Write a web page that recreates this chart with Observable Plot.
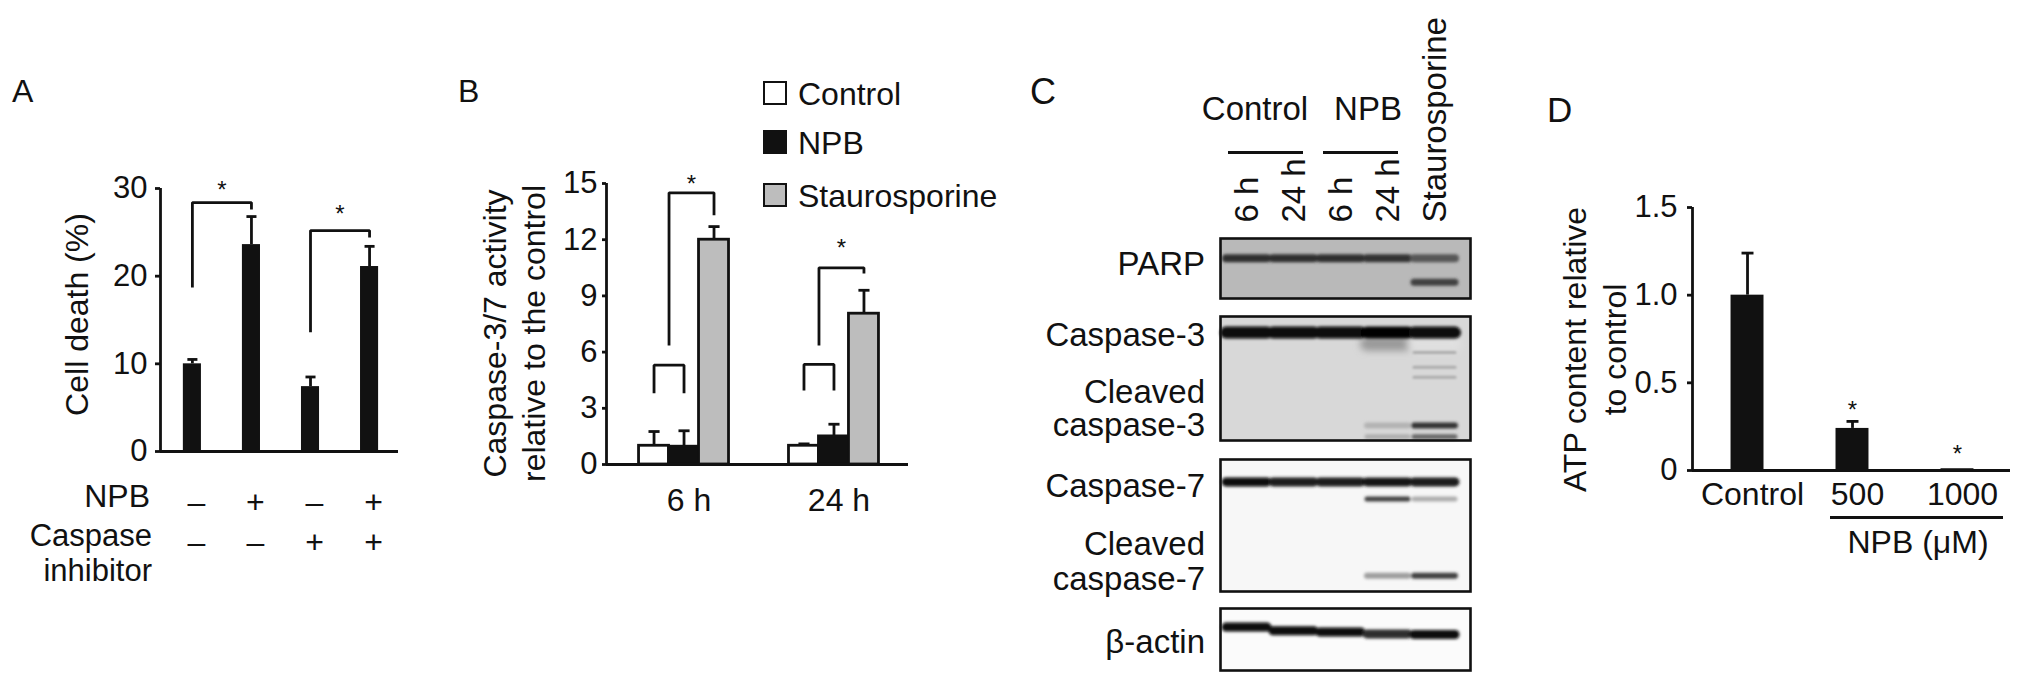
<!DOCTYPE html>
<html><head><meta charset="utf-8">
<script src="https://cdn.jsdelivr.net/npm/d3@7"></script>
<script src="https://cdn.jsdelivr.net/npm/@observablehq/plot@0.6"></script>
<style>
html,body{margin:0;padding:0;background:#fff;}
#fig{position:relative;width:2031px;height:685px;overflow:hidden;font-family:"Liberation Sans",Arial,Helvetica,sans-serif;color:#111;}
.p{position:absolute;}
.t{position:absolute;white-space:nowrap;line-height:1;}
.hl{position:absolute;height:3px;background:#111;}
</style></head><body><div id="fig"></div>
<script>
// ---------- Panel A data ----------
const aNPB = ["–", "+", "–", "+"];
const aInhibitor = ["–", "–", "+", "+"];
const aCellDeath = [10.0, 23.6, 7.4, 21.1];
const aError = [0.5, 3.2, 1.1, 2.3];
const aBrackets = [
  {left: 0, right: 1, top: 28.4, leftEnd: 18.7, rightEnd: 27.6, star: 30.5},
  {left: 2, right: 3, top: 25.2, leftEnd: 13.6, rightEnd: 24.4, star: 27.7}
];
const aTicks = [0, 10, 20, 30];

// ---------- Panel B data ----------
const bTimes = ["6 h", "24 h"];
const bSeries = ["Control", "NPB", "Staurosporine"];
const bControl = [1.0, 1.0];
const bNPB = [0.95, 1.5];
const bStauro = [12.0, 8.05];
const bControlErr = [0.76, 0.1];
const bNPBErr = [0.85, 0.65];
const bStauroErr = [0.7, 1.25];
// bracket legs given as series offsets (-1 Control, 0 NPB, 1 Staurosporine, -0.5 between)
const bBrackets = [
  {time: 0, left: -1, right: 0, top: 5.3, leftEnd: 3.8, rightEnd: 3.8},
  {time: 0, left: -0.5, right: 1, top: 14.5, leftEnd: 6.35, rightEnd: 13.3},
  {time: 1, left: -1, right: 0, top: 5.34, leftEnd: 3.95, rightEnd: 3.95},
  {time: 1, left: -0.5, right: 1, top: 10.5, leftEnd: 6.35, rightEnd: 10.2}
];
const bStars = [{time: 0, y: 15.3}, {time: 1, y: 11.85}];
const bTicks = [0, 3, 6, 9, 12, 15];

// ---------- Panel C data (band intensity per lane, 0 = no band; pos = migration 0 top .. 1 bottom) ----------
const cLanes = ["6 h", "24 h", "6 h", "24 h", "Staurosporine"];
const parpFullPos = 0.33, parpFull = [0.82, 0.82, 0.82, 0.8, 0.66];
const parpCleavedPos = 0.73, parpCleaved = [0, 0, 0, 0, 0.75];
const casp3Pos = 0.13, casp3 = [0.97, 0.97, 0.97, 1.0, 0.97];
const casp3SmearPos = 0.22, casp3Smear = [0, 0, 0, 0.4, 0.12];
const casp3MidPos = [0.29, 0.41, 0.49], casp3Mid = [0, 0, 0, 0, 0.32];
const cleaved3aPos = 0.88, cleaved3a = [0, 0, 0, 0.3, 0.8];
const cleaved3bPos = 0.97, cleaved3b = [0, 0, 0, 0.32, 0.6];
const casp7Pos = 0.17, casp7 = [0.95, 0.9, 0.9, 0.92, 0.9];
const casp7MidPos = 0.30, casp7Mid = [0, 0, 0, 0.75, 0.32];
const cleaved7Pos = 0.88, cleaved7 = [0, 0, 0, 0.38, 0.75];
const actinPos = [0.30, 0.36, 0.38, 0.41, 0.42], actin = [0.97, 0.97, 0.95, 0.82, 0.95];

// ---------- Panel D data ----------
const dGroups = ["Control", "500", "1000"];
const dATP = [1.0, 0.24, 0.01];
const dErr = [0.24, 0.04, 0.0];
const dStars = [{i: 1, y: 0.38}, {i: 2, y: 0.125}];
const dTicks = [0, 0.5, 1.0, 1.5];

// ---------- helpers ----------
const fig = document.getElementById("fig");
const FONT = '"Liberation Sans", Arial, Helvetica, sans-serif';
const INK = "#111";
const baseStyle = {fontFamily: FONT, fontSize: "31px", color: INK, background: "transparent", overflow: "visible", maxWidth: "none"};
function place(node, left, top) {
  const d = document.createElement("div");
  d.className = "p"; d.style.left = left + "px"; d.style.top = top + "px";
  d.appendChild(node); fig.appendChild(d);
}
function txt(str, x, baseline, size, anchor = "start", lh = null) {
  const d = document.createElement("div");
  d.className = "t"; d.style.fontSize = size + "px";
  const lines = String(str).split("\n");
  lines.forEach((l, i) => { if (i) d.appendChild(document.createElement("br")); d.appendChild(document.createTextNode(l)); });
  if (lh) { d.style.lineHeight = lh + "px"; d.style.top = (baseline - (lh / 2 + 0.33 * size)) + "px"; }
  else d.style.top = (baseline - 0.85 * size) + "px";
  if (anchor === "end") { d.style.right = (2031 - x) + "px"; d.style.textAlign = "right"; }
  else if (anchor === "middle") { d.style.left = x + "px"; d.style.transform = "translateX(-50%)"; }
  else d.style.left = x + "px";
  fig.appendChild(d);
}
function hline(x1, x2, y) {
  const d = document.createElement("div");
  d.className = "hl"; d.style.left = x1 + "px"; d.style.width = (x2 - x1) + "px"; d.style.top = (y - 1.5) + "px";
  fig.appendChild(d);
}
function bracketPoints(list, xOf) {
  return list.flatMap((b, id) => [
    {id, x: xOf(b, b.left), y: b.leftEnd},
    {id, x: xOf(b, b.left), y: b.top},
    {id, x: xOf(b, b.right), y: b.top},
    {id, x: xOf(b, b.right), y: b.rightEnd}
  ]);
}
// rotated y-axis title, drawn by Plot relative to the frame's left edge
const yTitle = (text, dx, dy, lineHeight = 1.2) =>
  Plot.text([text], {frameAnchor: "left", rotate: -90, dx, dy, fontSize: 32, lineHeight, lineAnchor: "middle", textAnchor: "middle"});
const SW = 2.8;

// ---------- Panel A ----------
{
  const data = aCellDeath.map((v, i) => ({i, value: v, top: v + aError[i]}));
  const xd = [-0.54, 3.49];
  const hw = 0.153, cap = 0.085;
  const plot = Plot.plot({
    width: 420, height: 685, marginLeft: 160, marginRight: 22, marginTop: 188, marginBottom: 234,
    style: baseStyle,
    x: {domain: xd},
    y: {domain: [0, 30], label: null},
    marks: [
      Plot.rectY(data, {x1: d => d.i - hw, x2: d => d.i + hw, y: "value", fill: INK}),
      Plot.ruleX(data, {x: "i", y1: "value", y2: "top", stroke: INK, strokeWidth: SW}),
      Plot.link(data, {x1: d => d.i - cap, x2: d => d.i + cap, y1: "top", y2: "top", stroke: INK, strokeWidth: SW}),
      Plot.line(bracketPoints(aBrackets, (b, p) => p), {x: "x", y: "y", z: "id", stroke: INK, strokeWidth: SW, strokeLinejoin: "miter", strokeLinecap: "butt"}),
      Plot.text(aBrackets, {x: d => (d.left + d.right) / 2, y: "star", text: () => "*", fontSize: 24, dy: 6}),
      Plot.ruleX([xd[0]], {y1: 0, y2: 30, stroke: INK, strokeWidth: SW}),
      Plot.ruleY([0], {stroke: INK, strokeWidth: 3.2}),
      Plot.axisY({ticks: aTicks, tickSize: 5, tickPadding: 8, strokeWidth: SW, label: null}),
      Plot.axisX({ticks: [0, 1, 2, 3], tickFormat: i => aNPB[i] + "\n" + aInhibitor[i], tickSize: 0, tickPadding: 33, lineHeight: 1.25, fontSize: 32, dx: 4, label: null}),
      yTitle("Cell death (%)", -85, -5.5)
    ]
  });
  place(plot, 0, 0);
  txt("A", 12, 102, 32);
  txt("NPB", 150, 507, 32, "end");
  txt("Caspase\ninhibitor", 152, 546, 31, "end", 35);
}

// ---------- Panel B ----------
{
  const vals = [bControl, bNPB, bStauro], errs = [bControlErr, bNPBErr, bStauroErr];
  const data = bTimes.flatMap((t, ti) => bSeries.map((s, si) => ({
    t: ti, k: si - 1, series: s, value: vals[si][ti], top: vals[si][ti] + errs[si][ti]
  })));
  const xd = [-0.517, 1.497];
  const gap = 0.2, hw = 0.1, cap = 0.037;
  const cx = d => d.t + d.k * gap;
  const plot = Plot.plot({
    width: 470, height: 685, marginLeft: 156, marginRight: 12, marginTop: 183, marginBottom: 221,
    style: baseStyle,
    x: {domain: xd},
    y: {domain: [0, 15], label: null},
    color: {domain: bSeries, range: ["#ffffff", INK, "#bdbdbd"]},
    marks: [
      Plot.ruleX(data, {x: cx, y1: "value", y2: "top", stroke: INK, strokeWidth: SW}),
      Plot.link(data, {x1: d => cx(d) - cap, x2: d => cx(d) + cap, y1: "top", y2: "top", stroke: INK, strokeWidth: SW}),
      Plot.rectY(data, {x1: d => cx(d) - hw, x2: d => cx(d) + hw, y: "value", fill: "series", stroke: INK, strokeWidth: SW}),
      Plot.line(bracketPoints(bBrackets, (b, p) => b.time + p * gap), {x: "x", y: "y", z: "id", stroke: INK, strokeWidth: SW, strokeLinejoin: "miter", strokeLinecap: "butt"}),
      Plot.text(bStars, {x: d => d.time + 0.25 * gap, y: "y", text: () => "*", fontSize: 24, dy: 6}),
      Plot.ruleX([xd[0]], {y1: 0, y2: 15, stroke: INK, strokeWidth: SW}),
      Plot.ruleY([0], {stroke: INK, strokeWidth: 3.2}),
      Plot.axisY({ticks: bTicks, tickSize: 4, tickPadding: 5, strokeWidth: SW, label: null}),
      Plot.axisX({ticks: [0, 1], tickFormat: i => bTimes[i], tickSize: 0, tickPadding: 24, fontSize: 32, dx: 5, label: null}),
      yTitle("Caspase-3/7 activity\nrelative to the control", -93.5, 9.5, 1.22)
    ]
  });
  place(plot, 450, 0);
  txt("B", 458, 102, 32);
  // legend
  const sw = [["#ffffff", "Control"], [INK, "NPB"], ["#bdbdbd", "Staurosporine"]];
  const rows = [93, 142, 195];
  sw.forEach(([c, label], i) => {
    const s = document.createElement("div");
    s.style.cssText = `position:absolute;left:763px;top:${rows[i] - 12}px;width:20px;height:20px;background:${c};border:2.8px solid ${INK};`;
    fig.appendChild(s);
    txt(label, 798, rows[i] + 12, 32);
  });
}

// ---------- Panel C ----------
{
  const NS = "http://www.w3.org/2000/svg";
  let fid = 0;
  const bands = (pos, intens) => intens.map((v, i) => ({lane: i, pos: Array.isArray(pos) ? pos[i] : pos, intensity: v})).filter(d => d.intensity > 0);
  const blot = ({height, marginTop = 0, bg, layers, axis = false}) => {
    const svg = Plot.plot({
      width: 250, height, marginTop, marginBottom: 0, marginLeft: 0, marginRight: 0,
      style: {...baseStyle, fontSize: "33px"},
      x: {type: "band", domain: [0, 1, 2, 3, 4], paddingInner: 0, paddingOuter: 0.13, align: 0.18, ...(axis ? {} : {axis: null})},
      y: {domain: [0, 1], reverse: true, axis: null},
      color: {type: "linear", domain: [0, 1], range: ["#ffffff", "#000000"]},
      marks: [
        Plot.frame({fill: bg}),
        ...layers.map(([data, w]) => Plot.tickY(data, {x: "lane", y: "pos", stroke: "intensity", strokeWidth: w, insetLeft: 3, insetRight: 3, strokeLinecap: "round"})),
        Plot.frame({stroke: INK, strokeWidth: 2.6}),
        ...(axis ? [Plot.axisX({anchor: "top", tickFormat: i => cLanes[i], tickRotate: -90, tickSize: 0, tickPadding: 16, fontSize: 33, label: null})] : [])
      ]
    });
    // soften the bands with a gaussian blur (SVG filter)
    const defs = document.createElementNS(NS, "defs");
    svg.insertBefore(defs, svg.firstChild);
    const groups = svg.querySelectorAll('g[aria-label="tick"]');
    groups.forEach((g, gi) => {
      const id = "blur" + (fid++);
      const f = document.createElementNS(NS, "filter");
      f.setAttribute("id", id);
      f.setAttribute("filterUnits", "userSpaceOnUse");
      f.setAttribute("x", "-20"); f.setAttribute("y", "-20");
      f.setAttribute("width", "300"); f.setAttribute("height", String(height + 40));
      const b = document.createElementNS(NS, "feGaussianBlur");
      b.setAttribute("stdDeviation", String(layers[gi][2]));
      f.appendChild(b); defs.appendChild(f);
      g.setAttribute("filter", `url(#${id})`);
    });
    return svg;
  };
  place(blot({height: 298, marginTop: 238, bg: "#b9b9b9", axis: true, layers: [
    [bands(parpFullPos, parpFull), 8, 1.6], [bands(parpCleavedPos, parpCleaved), 7, 1.6]
  ]}), 1220, 0);
  place(blot({height: 124, bg: "#d8d8d8", layers: [
    [bands(casp3SmearPos, casp3Smear), 14, 3.5], [bands(casp3Pos, casp3), 12, 1.8],
    ...casp3MidPos.map(p => [bands(p, casp3Mid), 3, 1.1]),
    [bands(cleaved3aPos, cleaved3a), 6, 1.8], [bands(cleaved3bPos, cleaved3b), 5, 1.8]
  ]}), 1220, 316);
  place(blot({height: 132, bg: "#f7f7f7", layers: [
    [bands(casp7Pos, casp7), 9, 1.6], [bands(casp7MidPos, casp7Mid), 5, 1.4], [bands(cleaved7Pos, cleaved7), 6, 1.8]
  ]}), 1220, 459);
  place(blot({height: 62, bg: "#fbfbfb", layers: [
    [bands(actinPos, actin), 9, 1.6]
  ]}), 1220, 608);

  txt("C", 1030, 105, 36);
  txt("Control", 1255, 120, 33, "middle");
  txt("NPB", 1368, 120, 33, "middle");
  hline(1228, 1303, 152);
  hline(1323, 1398, 152);
  txt("PARP", 1205, 275, 33, "end");
  txt("Caspase-3", 1205, 346, 33, "end");
  txt("Cleaved\ncaspase-3", 1205, 402, 33, "end", 33);
  txt("Caspase-7", 1205, 497, 33, "end");
  txt("Cleaved\ncaspase-7", 1205, 554, 33, "end", 35);
  txt("β-actin", 1205, 653, 33, "end");
}

// ---------- Panel D ----------
{
  const data = dATP.map((v, i) => ({i, value: v, top: v + dErr[i]}));
  const xd = [-0.524, 2.505];
  const hw = 0.157, cap = 0.057;
  const plot = Plot.plot({
    width: 531, height: 685, marginLeft: 192, marginRight: 21, marginTop: 207, marginBottom: 215,
    style: baseStyle,
    x: {domain: xd},
    y: {domain: [0, 1.5], label: null},
    marks: [
      Plot.rectY(data, {x1: d => d.i - hw, x2: d => d.i + hw, y: "value", fill: INK}),
      Plot.ruleX(data.filter(d => d.top > d.value), {x: "i", y1: "value", y2: "top", stroke: INK, strokeWidth: SW}),
      Plot.link(data.filter(d => d.top > d.value), {x1: d => d.i - cap, x2: d => d.i + cap, y1: "top", y2: "top", stroke: INK, strokeWidth: SW}),
      Plot.text(dStars, {x: "i", y: "y", text: () => "*", fontSize: 24, dy: 6}),
      Plot.ruleX([xd[0]], {y1: 0, y2: 1.5, stroke: INK, strokeWidth: SW}),
      Plot.ruleY([0], {stroke: INK, strokeWidth: 3.2}),
      Plot.axisY({ticks: dTicks, tickFormat: d => d === 0 ? "0" : d.toFixed(1), tickSize: 5, tickPadding: 10, strokeWidth: SW, label: null}),
      Plot.axisX({ticks: [0, 1, 2], tickFormat: i => dGroups[i], tickSize: 0, tickPadding: 12, fontSize: 32, dx: 5, label: null}),
      yTitle("ATP content relative\nto control", -99, 10.5, 1.25)
    ]
  });
  place(plot, 1500, 0);
  txt("D", 1547, 122, 35);
  hline(1830, 2003, 517);
  txt("NPB (μM)", 1918, 553, 32, "middle");
}
</script></body></html>
